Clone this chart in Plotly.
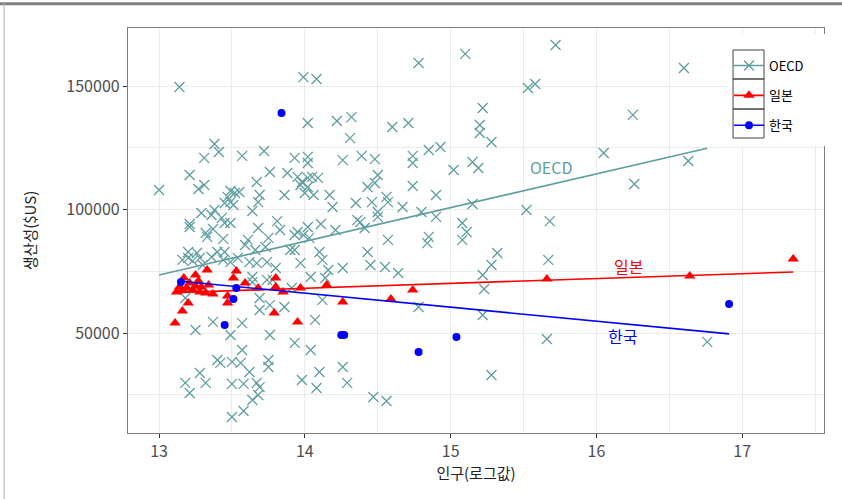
import numpy as np
import plotly.graph_objects as go

# OECD regions: log population vs productivity (US$)
oecd_pop = [13.14, 13.99, 14.08, 14.02, 14.22, 14.32, 14.31, 13.38, 13.41, 13.31,
            13.57, 13.72, 13.93, 14.02, 14.02, 14.26, 14.39, 14.48, 13.21, 13.76,
            13.67, 13.00, 13.27, 13.31, 13.49, 13.52, 13.55, 13.47, 13.49, 13.45,
            13.51, 13.29, 13.38, 13.36, 13.43, 13.49, 13.45, 13.21, 13.21, 13.37,
            13.32, 13.33, 13.44, 13.69, 13.68, 13.64, 13.68, 13.61, 13.59, 13.75,
            13.73, 13.20, 13.26, 13.40, 13.45, 13.66, 13.28, 13.20, 13.23, 13.36,
            13.44, 13.54, 13.18, 13.64, 13.64, 13.74, 13.78, 13.69, 13.76, 13.37,
            13.25, 13.57, 13.49, 13.76, 13.57, 13.40, 13.42, 13.50, 13.56, 13.75,
            13.75, 13.62, 13.28, 13.18, 13.32, 13.21, 13.50, 13.58, 13.67, 13.69,
            13.68, 13.64, 13.50, 13.58, 13.88, 13.95, 13.98, 14.02, 14.05, 14.09,
            13.97, 14.02, 14.00, 14.06, 13.86, 14.17, 14.19, 14.50, 14.48, 14.43,
            14.35, 14.46, 14.56, 14.57, 14.50, 14.50, 14.36, 14.38, 14.41, 13.81,
            13.83, 14.02, 13.99, 13.95, 13.93, 14.11, 14.21, 14.57, 14.03, 13.90,
            13.93, 14.10, 14.43, 13.97, 14.12, 14.16, 14.14, 14.26, 14.04, 14.45,
            14.55, 14.64, 13.80, 13.91, 14.12, 13.86, 14.07, 13.93, 14.04, 13.98,
            14.10, 14.08, 14.26, 14.29, 14.47, 14.56, 14.78, 15.10, 15.72, 16.60,
            15.53, 15.58, 15.22, 14.60, 14.71, 15.20, 15.20, 15.28, 16.25, 14.74,
            14.74, 14.85, 14.93, 14.74, 14.90, 15.02, 15.15, 15.19, 16.05, 16.63,
            16.26, 14.67, 14.80, 14.90, 15.15, 15.52, 15.68, 15.08, 15.11, 15.08,
            14.85, 14.84, 15.32, 15.28, 15.22, 15.23, 15.67, 14.78, 15.22, 15.66,
            15.28, 16.76, 13.16, 13.30, 13.69, 13.62, 13.67, 13.74, 13.49]
oecd_prod = [149600, 153600, 152800, 135000, 135800, 137400, 128900, 126500, 123300, 120900,
             121700, 123700, 120900, 121300, 118800, 120000, 121700, 120400, 114000, 115200,
             111100, 107900, 108300, 109900, 107500, 106700, 107100, 105100, 103000, 102600,
             101800, 98600, 99800, 97800, 96600, 94500, 94500, 94100, 92900, 92100,
             90500, 88900, 88100, 105900, 103000, 99400, 92500, 87700, 85600, 88500,
             84800, 82800, 82400, 82800, 82800, 83600, 80400, 80400, 79200, 80800,
             79600, 80400, 64200, 72700, 70600, 71500, 71500, 59300, 61300, 54500,
             51200, 54000, 49200, 49200, 43100, 39100, 37900, 38300, 37900, 39100,
             36200, 34200, 33800, 29800, 29800, 25700, 29400, 29400, 29800, 28100,
             24900, 22900, 16000, 18400, 114800, 113200, 111100, 112800, 113200, 112800,
             109900, 109100, 106700, 105900, 105900, 105900, 101000, 114000, 110700, 109100,
             102600, 103000, 105100, 103000, 99000, 97000, 95700, 94900, 92500, 95300,
             91700, 92900, 89700, 90900, 89700, 94100, 91700, 87700, 88500, 83600,
             83600, 82800, 82800, 78300, 79600, 75500, 72300, 76300, 72700, 77500,
             76700, 74300, 76300, 68200, 63400, 60500, 55300, 46000, 43100, 31000,
             34200, 27700, 36200, 29800, 24100, 22500, 159300, 163000, 166600, 157300,
             149200, 150800, 141100, 133400, 135000, 134200, 131000, 127300, 138300, 121700,
             118800, 124100, 125300, 109500, 105900, 116000, 119200, 116800, 122900, 119600,
             110300, 101000, 99000, 97000, 102200, 99800, 95300, 94500, 90900, 87700,
             88900, 86400, 82400, 77500, 73500, 67800, 79600, 60500, 57300, 47600,
             33000, 46400, 79600, 77500, 64200, 78700, 78300, 78700, 78700]

# Japanese prefectures
japan_pop = [13.11, 13.16, 13.20, 13.12, 13.17, 13.19, 13.23, 13.25, 13.27, 13.28,
             13.29, 13.33, 13.37, 13.21, 13.16, 13.25, 13.32, 13.14, 13.34, 13.47,
             13.47, 13.53, 13.51, 13.59, 13.68, 13.79, 13.80, 13.80, 13.85, 13.95,
             13.97, 14.15, 14.26, 14.59, 14.74, 15.66, 16.64, 17.35]
japan_prod = [54000, 58900, 62100, 66600, 72300, 68200, 67400, 73500, 71100, 66600,
              68600, 75500, 65800, 70200, 67400, 69000, 66200, 68600, 69400, 62100,
              65000, 75100, 72300, 70200, 68200, 58100, 72300, 68600, 66600, 54500,
              68200, 69400, 62600, 63800, 67400, 71900, 73100, 80000]

# Korean regions
korea_pop = [13.15, 13.53, 13.51, 13.45, 13.84, 14.25, 14.27, 14.78, 15.04, 16.91]
korea_prod = [70600, 68200, 63800, 53200, 139100, 49200, 49200, 42300, 48400, 61700]

groups = [
    ("OECD", oecd_pop, oecd_prod, "#5F9EA0",
     dict(symbol="x-thin", size=10, line=dict(width=1.3, color="#5F9EA0"))),
    ("일본", japan_pop, japan_prod, "#FF0000",
     dict(symbol="triangle-up", size=10, color="#FF0000", line=dict(width=0))),
    ("한국", korea_pop, korea_prod, "#0000FF",
     dict(symbol="circle", size=8, color="#0000FF", line=dict(width=0))),
]

FONT = "Noto Sans CJK KR"
fig = go.Figure()

for name, xs, ys, col, mk in groups:
    xs = np.asarray(xs)
    ys = np.asarray(ys)
    fig.add_trace(go.Scatter(x=xs, y=ys, mode="markers", marker=mk,
                             showlegend=False, hoverinfo="skip"))
    # least-squares fit over the observed range
    slope, icpt = np.polyfit(xs, ys, 1)
    fx = np.array([xs.min(), xs.max()])
    fig.add_trace(go.Scatter(x=fx, y=icpt + slope * fx, mode="lines",
                             line=dict(color=col, width=1.6),
                             showlegend=False, hoverinfo="skip"))

# legend keys (line + marker)
for i, (name, xs, ys, col, mk) in enumerate(groups):
    fig.add_trace(go.Scatter(x=[None], y=[None], mode="lines+markers", name=name,
                             marker=mk, line=dict(color=col, width=1.6),
                             legendgroup=str(i)))

# direct labels next to the fit lines
labels = [("OECD", 15.69, 117200, "#5F9EA0"),
          ("일본", 16.22, 77100, "#FF0000"),
          ("한국", 16.18, 48800, "#0000FF")]
for txt, lx, ly, col in labels:
    fig.add_annotation(x=lx, y=ly, text=txt, showarrow=False,
                       font=dict(family=FONT, size=16, color=col))

axis_common = dict(
    showgrid=True, gridcolor="#EBEBEB", gridwidth=1.4,
    zeroline=False, showline=True, linecolor="#7F7F7F", linewidth=1.3, mirror=True,
    ticks="outside", ticklen=4, tickcolor="#333333", tickwidth=1,
    tickfont=dict(family=FONT, size=16, color="#4D4D4D"),
)

fig.update_xaxes(range=[12.787, 17.561], dtick=1, tick0=13,
                 minor=dict(showgrid=True, dtick=0.5, tick0=13, gridcolor="#EBEBEB", gridwidth=1.4),
                 title=dict(text="인구(로그값)", font=dict(family=FONT, size=15, color="#222222"),
                            standoff=5),
                 **axis_common)
fig.update_yaxes(range=[9514, 173480], dtick=50000, tick0=0, tickformat="d",
                 minor=dict(showgrid=True, dtick=25000, tick0=0, gridcolor="#EBEBEB", gridwidth=1.4),
                 title=dict(text="생산성($US)", font=dict(family=FONT, size=15, color="#222222"),
                            standoff=26),
                 **axis_common)

# outer frame (top and left edges)
fig.add_shape(type="line", xref="paper", yref="paper", x0=-0.19, x1=1.05, y0=1.060, y1=1.060,
              line=dict(color="#808080", width=3))
fig.add_shape(type="line", xref="paper", yref="paper", x0=-0.178, x1=-0.178, y0=-0.2, y1=1.062,
              line=dict(color="#B0B0B0", width=1))

# legend background and boxed keys
fig.add_shape(type="rect", xref="paper", yref="paper", layer="above",
              x0=0.8635, x1=1.0086, y0=0.7086, y1=0.985,
              fillcolor="white", line=dict(width=0))
key_edges = [0.9457, 0.8741, 0.8000, 0.7284]
for top, bot in zip(key_edges[:-1], key_edges[1:]):
    fig.add_shape(type="rect", xref="paper", yref="paper", layer="above",
                  x0=0.8693, x1=0.9138, y0=bot, y1=top,
                  fillcolor="rgba(0,0,0,0)", line=dict(color="#444444", width=1))

fig.update_layout(
    width=842, height=499,
    margin=dict(l=128, r=18, t=28, b=66),
    paper_bgcolor="white", plot_bgcolor="white",
    font=dict(family=FONT),
    legend=dict(x=0.8635, y=0.9445, xanchor="left", yanchor="top",
                bgcolor="rgba(0,0,0,0)", borderwidth=0,
                font=dict(family=FONT, size=13, color="#000000"),
                traceorder="grouped", tracegroupgap=10, itemwidth=30),
)

fig.write_html("out.html")
